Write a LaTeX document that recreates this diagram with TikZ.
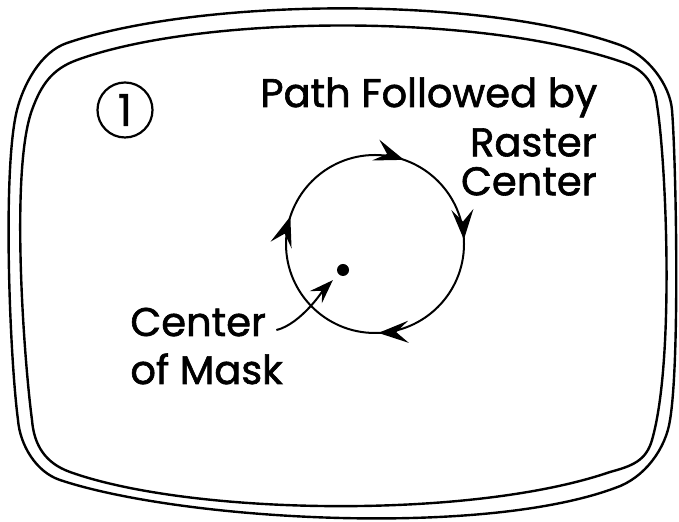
\documentclass[tikz,border=0pt]{standalone}
\usepackage{fontspec}
\setmainfont{Poppins}
\newfontfamily\lblfont[FakeBold=1.5]{Poppins}
\usetikzlibrary{arrows.meta,decorations.markings,positioning}
\tikzset{
  >={Stealth[length=15pt,width=11pt,inset=6pt]},
  frame/.style={line width=1.2pt,line join=round},
  orbit/.style={line width=1pt,postaction={decorate},
    decoration={markings,
      mark=at position 0.244 with {\arrow{>}},
      mark=at position 0.55 with {\arrow{>}},
      mark=at position 0.803 with {\arrow{>}},
      mark=at position 0.992 with {\arrow{>}}}},
  lbl/.style={inner sep=0pt,font=\lblfont\fontsize{20}{19.5}\selectfont},
  pointer/.style={-{Stealth[length=12pt,width=8.5pt,inset=4.5pt]},line width=1pt,shorten >=4pt},
  dot/.style={circle,fill,inner sep=0pt,minimum size=6pt}
}
\begin{document}
\begin{tikzpicture}[x=0.5pt,y=-0.5pt]
  \useasboundingbox (0,0) rectangle (679,522);
  % screen outline, outer
  \draw[frame] (67,43) .. controls (200,-2) and (480,-5) .. (620,45)
    .. controls (648,55) and (670,85) .. (672,110)
    .. controls (676,160) and (680,360) .. (670,420)
    .. controls (666,448) and (645,478) .. (615,488)
    .. controls (480,538) and (180,520) .. (60,480)
    .. controls (36,472) and (20,445) .. (18,420)
    .. controls (10,360) and (2,170) .. (17,110)
    .. controls (23,86) and (40,52) .. cycle;
  % inner
  \draw[frame] (77,60) .. controls (200,15) and (480,12) .. (625,63)
    .. controls (645,70) and (655,85) .. (657,105)
    .. controls (666,160) and (675,360) .. (652,440)
    .. controls (646,461) and (632,466) .. (610,472)
    .. controls (470,520) and (190,515) .. (70,472)
    .. controls (45,463) and (34,445) .. (32,420)
    .. controls (24,360) and (10,170) .. (32,110)
    .. controls (41,85) and (52,69) .. cycle;
  \node[circle,draw,line width=1.1pt,minimum size=27.5pt,inner sep=0pt,
        font=\lblfont\fontsize{22}{22}\selectfont] (num) at (125,110) {1};
  \node[lbl,anchor=base west] (title) at (260,107) {Path Followed by};
  \node[lbl,align=right,anchor=north east] (raster) at (597,128) {Raster\\Center};
  % path of the raster center
  \draw[orbit] (375,244) circle[radius=89];
  \node[dot] (mask) at (343,270) {};
  \node[lbl,anchor=base west] (maskA) at (130,336) {Center};
  \node[lbl,anchor=base west] (maskB) at (130,384) {of Mask};
  \draw[pointer] ([xshift=5pt,yshift=-4pt]maskA.east) .. controls +(25,-6) and +(-18,18) .. (mask);
\end{tikzpicture}
\end{document}
